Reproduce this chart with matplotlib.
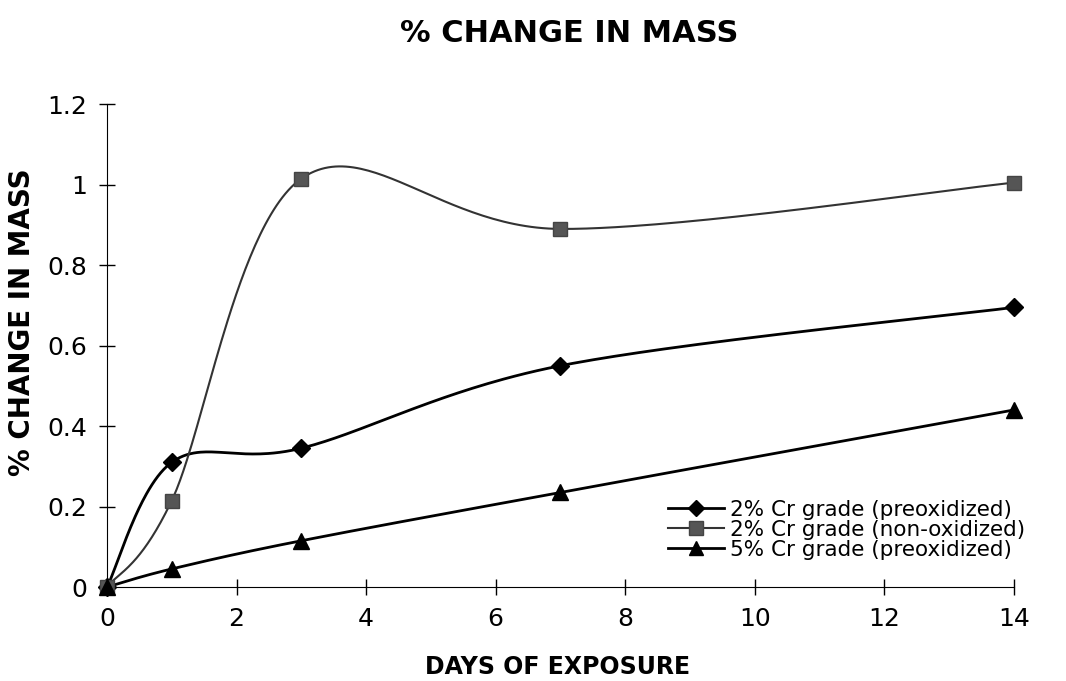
import numpy as np
import matplotlib.pyplot as plt
from matplotlib.lines import Line2D

plt.rcParams['font.family'] = ['DejaVu Sans']

days = [0, 1, 3, 7, 14]
cr2_pre = [0, 0.31, 0.345, 0.55, 0.695]
cr2_non = [0, 0.215, 1.015, 0.89, 1.005]
cr5_pre = [0, 0.045, 0.115, 0.235, 0.44]

labels = ['2% Cr grade (preoxidized)', '2% Cr grade (non-oxidized)', '5% Cr grade (preoxidized)']


def smooth(x, y, n=60):
    # excel style smoothed line (bezier through the points)
    x = np.asarray(x, float)
    y = np.asarray(y, float)
    px = np.concatenate([[x[0]], x, [x[-1]]])
    py = np.concatenate([[y[0]], y, [y[-1]]])
    xs, ys = [], []
    t = np.linspace(0, 1, n)
    for i in range(1, len(px) - 2):
        p0 = np.array([px[i], py[i]])
        p3 = np.array([px[i + 1], py[i + 1]])
        c1 = p0 + (np.array([px[i + 1], py[i + 1]]) - np.array([px[i - 1], py[i - 1]])) / 6
        c2 = p3 - (np.array([px[i + 2], py[i + 2]]) - np.array([px[i], py[i]])) / 6
        b = ((1 - t) ** 3)[:, None] * p0 + (3 * (1 - t) ** 2 * t)[:, None] * c1 \
            + (3 * (1 - t) * t ** 2)[:, None] * c2 + (t ** 3)[:, None] * p3
        xs.extend(b[:, 0])
        ys.extend(b[:, 1])
    return xs, ys


fig = plt.figure(figsize=(10.66, 6.81), dpi=100)
ax = fig.add_axes([0.1004, 0.138, 0.8506, 0.709])

styles = [
    dict(color='black', lw=2.0, marker='D', ms=9, mfc='black', mec='black'),
    dict(color='#333333', lw=1.5, marker='s', ms=10.5, mfc='#555555', mec='#444444'),
    dict(color='black', lw=2.0, marker='^', ms=11, mfc='black', mec='black'),
]
handles = []
for ys, st in zip([cr2_pre, cr2_non, cr5_pre], styles):
    sx, sy = smooth(days, ys)
    ax.plot(sx, sy, color=st['color'], lw=st['lw'], clip_on=False, zorder=2)
    ax.plot(days, ys, ls='none', marker=st['marker'], ms=st['ms'], mfc=st['mfc'],
            mec=st['mec'], clip_on=False, zorder=3)
    handles.append(Line2D([], [], color=st['color'], lw=st['lw'], marker=st['marker'],
                          ms=st['ms'] * 0.9, mfc=st['mfc'], mec=st['mec']))

ax.set_xlim(0, 14)
ax.set_ylim(0, 1.2)
ax.set_xticks(range(0, 15, 2))
ax.set_yticks([0, 0.2, 0.4, 0.6, 0.8, 1.0, 1.2])
ax.set_yticklabels(['0', '0.2', '0.4', '0.6', '0.8', '1', '1.2'])
ax.spines['top'].set_visible(False)
ax.spines['right'].set_visible(False)
ax.tick_params(direction='inout', length=11, width=1, labelsize=18)
ax.tick_params(axis='x', pad=9)
ax.tick_params(axis='y', pad=9)

fig.text(0.534, 1 - 33 / 681, '% CHANGE IN MASS', fontsize=22, fontweight='bold',
         ha='center', va='center')
fig.text(0.5235, 1 - 667 / 681, 'DAYS OF EXPOSURE', fontsize=17, fontweight='bold',
         ha='center', va='center')
fig.text(22 / 1066, 1 - 322 / 681, '% CHANGE IN MASS', fontsize=20, fontweight='bold',
         ha='center', va='center', rotation=90)

fig.legend(handles, labels, loc='center left', bbox_to_anchor=(668 / 1066, 1 - 530 / 681),
           frameon=False, fontsize=15.5, handlelength=2.6, handletextpad=0.3,
           labelspacing=0.0, borderpad=0, borderaxespad=0)

fig.savefig('out.png', dpi=100)
